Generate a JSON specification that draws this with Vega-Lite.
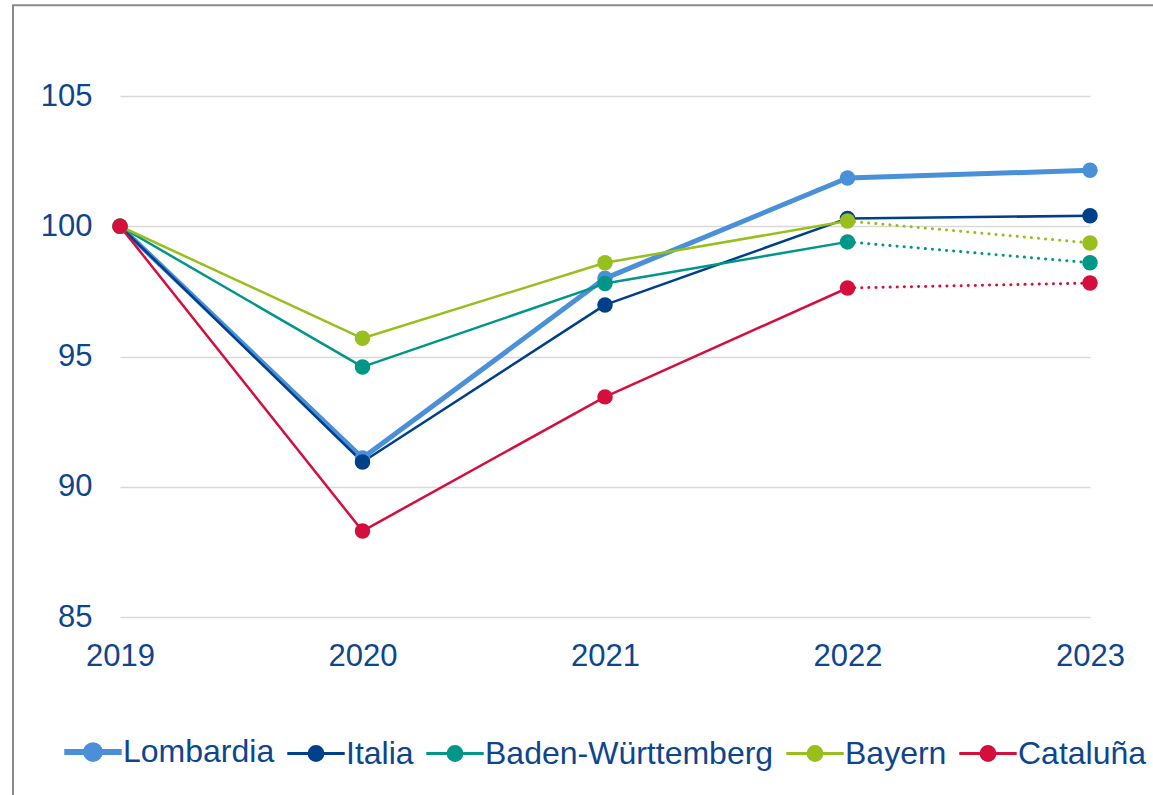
{
  "$schema": "https://vega.github.io/schema/vega-lite/v6.json",
  "width": 970,
  "height": 521,
  "autosize": {"type": "none"},
  "padding": {"left": 120, "top": 96, "right": 63, "bottom": 178},
  "background": "white",
  "config": {
    "view": {"stroke": null},
    "font": "Liberation Sans",
    "axis": {"labelFont": "Liberation Sans", "labelFontSize": 31, "labelColor": "#0E458F", "ticks": false, "domain": false, "title": null},
    "legend": {"labelFont": "Liberation Sans", "labelFontSize": 32, "labelColor": "#0E458F"}
  },
  "datasets": {
    "main": [
      {"series": "Lombardia", "year": 2019, "value": 100},
      {"series": "Lombardia", "year": 2020, "value": 91.1},
      {"series": "Lombardia", "year": 2021, "value": 98.0},
      {"series": "Lombardia", "year": 2022, "value": 101.85},
      {"series": "Lombardia", "year": 2023, "value": 102.15},
      {"series": "Italia", "year": 2019, "value": 100},
      {"series": "Italia", "year": 2020, "value": 90.95},
      {"series": "Italia", "year": 2021, "value": 96.98},
      {"series": "Italia", "year": 2022, "value": 100.3},
      {"series": "Italia", "year": 2023, "value": 100.4},
      {"series": "Baden-Württemberg", "year": 2019, "value": 100},
      {"series": "Baden-Württemberg", "year": 2020, "value": 94.6},
      {"series": "Baden-Württemberg", "year": 2021, "value": 97.8},
      {"series": "Baden-Württemberg", "year": 2022, "value": 99.4},
      {"series": "Baden-Württemberg", "year": 2023, "value": 98.6},
      {"series": "Bayern", "year": 2019, "value": 100},
      {"series": "Bayern", "year": 2020, "value": 95.7},
      {"series": "Bayern", "year": 2021, "value": 98.6},
      {"series": "Bayern", "year": 2022, "value": 100.2},
      {"series": "Bayern", "year": 2023, "value": 99.36},
      {"series": "Cataluña", "year": 2019, "value": 100},
      {"series": "Cataluña", "year": 2020, "value": 88.3},
      {"series": "Cataluña", "year": 2021, "value": 93.45},
      {"series": "Cataluña", "year": 2022, "value": 97.63},
      {"series": "Cataluña", "year": 2023, "value": 97.82}
    ]
  },
  "layer": [
    {
      "data": {"values": [{}]},
      "mark": {"type": "rect", "fill": null, "fillOpacity": 0, "stroke": "#8a8a8a", "strokeWidth": 2},
      "encoding": {
        "x": {"datum": 2018.5588, "type": "quantitative"},
        "x2": {"datum": 2025},
        "y": {"datum": 108.48, "type": "quantitative"},
        "y2": {"datum": 70}
      }
    },
    {
      "data": {"name": "main"},
      "transform": [{"filter": "datum.year <= 2022 || datum.series === 'Lombardia' || datum.series === 'Italia'"}],
      "mark": {"type": "line", "strokeCap": "round", "strokeJoin": "round"},
      "encoding": {
        "x": {"field": "year", "type": "quantitative", "scale": {"domain": [2019, 2023], "nice": false, "zero": false},
              "axis": {"values": [2019, 2020, 2021, 2022, 2023], "format": "d", "grid": false, "labelPadding": 24, "labelFlush": false}},
        "y": {"field": "value", "type": "quantitative", "scale": {"domain": [85, 105], "nice": false, "zero": false},
              "axis": {"values": [85, 90, 95, 100, 105], "grid": true, "gridColor": "#d9d9d9", "gridWidth": 1.5, "labelPadding": 28}},
        "color": {"field": "series", "type": "nominal",
                  "scale": {"domain": ["Lombardia", "Italia", "Baden-Württemberg", "Bayern", "Cataluña"],
                            "range": ["#4A90D9", "#003F8A", "#009688", "#97BF1D", "#D50F3D"]},
                  "legend": {"orient": "none", "legendX": -43, "legendY": 640, "direction": "horizontal", "title": null,
                             "symbolType": "M-1,0H1M-0.24,0A0.24,0.24,0,1,1,0.24,0A0.24,0.24,0,1,1,-0.24,0Z",
                             "symbolSize": 3300, "labelOffset": 14, "columnPadding": 6, "labelLimit": 500,
                             "symbolOpacity": 1,
                             "encode": {"symbols": {"update": {"strokeWidth": {"signal": "datum.value === 'Lombardia' ? 6 : 3"}, "fillOpacity": {"value": 1}}}}}},
        "strokeWidth": {"condition": {"test": "datum.series === 'Lombardia'", "value": 5}, "value": 2.5}
      }
    },
    {
      "data": {"name": "main"},
      "transform": [{"filter": "datum.year >= 2022 && datum.series !== 'Lombardia' && datum.series !== 'Italia'"}],
      "mark": {"type": "line", "strokeCap": "round", "strokeDash": [0.1, 7], "strokeWidth": 3},
      "encoding": {
        "x": {"field": "year", "type": "quantitative"},
        "y": {"field": "value", "type": "quantitative"},
        "color": {"field": "series", "type": "nominal"}
      }
    },
    {
      "data": {"name": "main"},
      "mark": {"type": "point", "filled": true, "size": 240, "opacity": 1, "shape": "circle"},
      "encoding": {
        "x": {"field": "year", "type": "quantitative"},
        "y": {"field": "value", "type": "quantitative"},
        "color": {"field": "series", "type": "nominal"}
      }
    }
  ]
}
